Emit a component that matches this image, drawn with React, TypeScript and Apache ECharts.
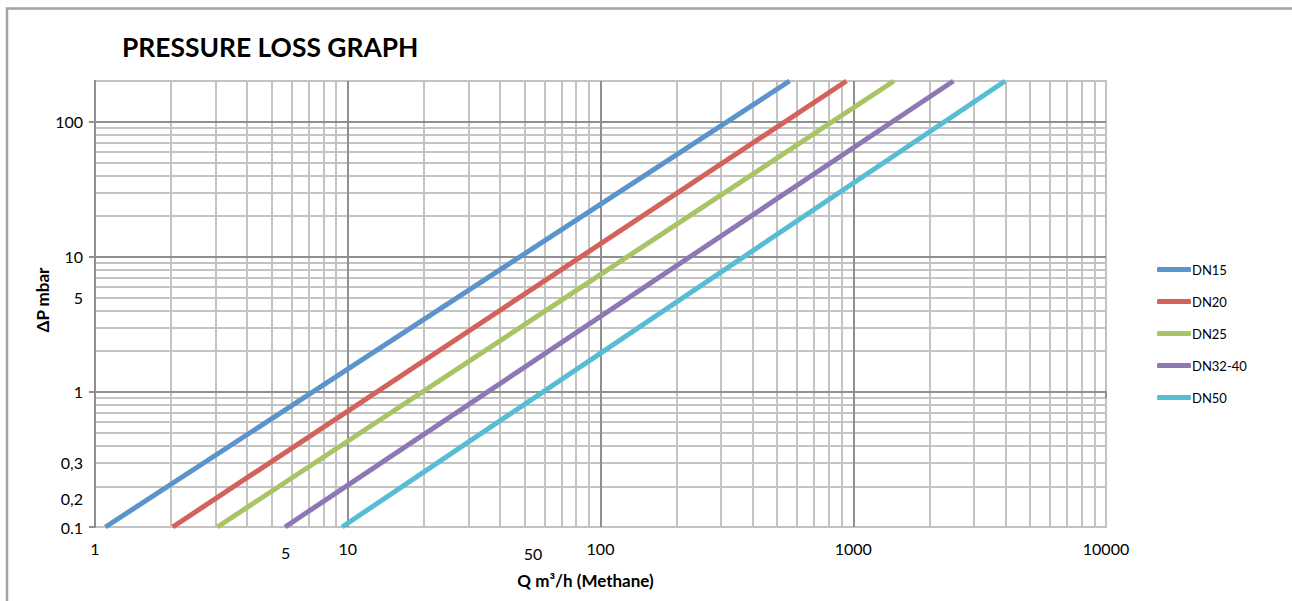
import React, { useEffect, useRef } from 'react';
import * as echarts from 'echarts';

const seriesNames = ['DN15', 'DN20', 'DN25', 'DN32-40', 'DN50'];
const seriesColors = ['#5B93CB', '#D2625A', '#A9C465', '#8E78B4', '#57BDD4'];
// pressure loss (mbar) at the two ends of every straight line
const pressureEnds = [0.1, 200];
// flow (m3/h) at those pressure losses
const flowDN15 = [1.1, 560];
const flowDN20 = [2.03, 940];
const flowDN25 = [3.05, 1450];
const flowDN3240 = [5.65, 2490];
const flowDN50 = [9.5, 3990];
const flows = [flowDN15, flowDN20, flowDN25, flowDN3240, flowDN50];

const xTickValues = [1, 5, 10, 50, 100, 1000, 10000];
const xTickLabels = ['1', '5', '10', '50', '100', '1000', '10000'];
const yTickValues = [0.1, 0.2, 0.3, 1, 5, 10, 100];
const yTickLabels = ['0.1', '0,2', '0,3', '1', '5', '10', '100'];
const xMajorTicks = [1, 10, 100, 1000, 10000];
const xMajorGrid = [10, 100, 1000];
const xMinorGrid = [2, 3, 4, 5, 6, 7, 8, 9, 20, 30, 40, 50, 60, 70, 80, 90, 200, 300, 400, 500, 600, 700, 800, 900, 2000, 3000, 4000, 5000, 6000, 7000, 8000, 9000];
const yMajorTicks = [0.1, 1, 10, 100];
const yMajorGrid = [1, 10, 100];
const yMinorGrid = [0.2, 0.3, 0.4, 0.5, 0.6, 0.7, 0.8, 0.9, 2, 3, 4, 5, 6, 7, 8, 9, 20, 30, 40, 50, 60, 70, 80, 90];
const xMin = 1, xMax = 10000, yMin = 0.1, yMax = 200;

const FONT = 'Lato';
const L = Math.log10;

function labelFor(vals: number[], labels: string[], v: number) {
  const i = vals.findIndex((t) => Math.abs(L(t) - v) < 1e-6);
  return i < 0 ? '' : labels[i];
}

export default function App() {
  const ref = useRef<HTMLDivElement>(null);
  useEffect(() => {
    if (!ref.current) return;
    const chart = echarts.init(ref.current, null, { renderer: 'svg' });
    const grid = { left: 95, top: 81, width: 1011, height: 446 };
    const hidden = { show: false };
    const baseX = { type: 'value', min: L(xMin), max: L(xMax), gridIndex: 0, position: 'bottom' };
    const baseY = { type: 'value', min: L(yMin), max: L(yMax), gridIndex: 0, position: 'left' };
    const lbl = { fontFamily: FONT, fontSize: 16, lineHeight: 16, color: '#000' };
    const option: any = {
      animation: false,
      backgroundColor: '#fff',
      title: {
        text: 'PRESSURE LOSS GRAPH',
        left: 117,
        top: 29,
        textStyle: { fontFamily: FONT, fontWeight: 'bold', fontSize: 26.4, color: '#000' },
      },
      legend: {
        orient: 'vertical',
        left: 1152,
        top: 258,
        itemGap: 19,
        itemWidth: 34,
        itemHeight: 5,
        icon: 'roundRect',
        data: seriesNames,
        textStyle: { fontFamily: FONT, fontSize: 13, color: '#000', padding: [0, 0, 0, -4] },
      },
      graphic: [
        {
          type: 'rect',
          shape: { x: 7, y: 8.5, width: 1400, height: 800 },
          style: { fill: 'none', stroke: '#a3a3a3', lineWidth: 2.5 },
          silent: true,
        },
      ],
      grid: { ...grid, show: true, borderColor: '#c2c2c2', borderWidth: 2, containLabel: false, outerBoundsMode: 'none' },
      xAxis: [
        {
          ...baseX, z: 0,
          axisLine: hidden, axisLabel: hidden,
          axisTick: { show: false, customValues: xMinorGrid.map(L) },
          splitLine: { show: true, lineStyle: { color: '#c4c4c4', width: 2 } },
        },
        {
          ...baseX, z: 1,
          axisLine: hidden, axisLabel: hidden,
          axisTick: { show: false, customValues: xMajorGrid.map(L) },
          splitLine: { show: true, lineStyle: { color: '#8f8f8f', width: 2 } },
        },
        {
          ...baseX, z: 2,
          axisLine: { show: true, lineStyle: { color: '#8f8f8f', width: 2 } },
          axisTick: { show: true, length: 6, customValues: xMajorTicks.map(L), lineStyle: { color: '#8f8f8f', width: 2 } },
          splitLine: hidden,
          axisLabel: {
            show: true,
            customValues: xTickValues.map(L),
            margin: 13,
            ...lbl,
            formatter: (v: number) => {
              const s = labelFor(xTickValues, xTickLabels, v);
              if (s === '5') return `{a|${s}}`;
              if (s === '50') return `{b|${s}}`;
              return s;
            },
            rich: {
              a: { ...lbl, padding: [8, 0, 0, 28] },
              b: { ...lbl, padding: [10, 0, 0, 17] },
            },
          },
          name: 'Q m³/h (Methane)',
          nameLocation: 'middle',
          nameGap: 45,
          nameMoveOverlap: false,
          nameTextStyle: { fontFamily: FONT, fontWeight: 'bold', fontSize: 17, color: '#000', padding: [0, 30, 0, 0] },
        },
        {
          type: 'log', logBase: 10, min: xMin, max: xMax, gridIndex: 0, show: false,
        },
      ],
      yAxis: [
        {
          ...baseY, z: 0,
          axisLine: hidden, axisLabel: hidden,
          axisTick: { show: false, customValues: yMinorGrid.map(L) },
          splitLine: { show: true, lineStyle: { color: '#c4c4c4', width: 2 } },
        },
        {
          ...baseY, z: 1,
          axisLine: hidden, axisLabel: hidden,
          axisTick: { show: false, customValues: yMajorGrid.map(L) },
          splitLine: { show: true, lineStyle: { color: '#8f8f8f', width: 2 } },
        },
        {
          ...baseY, z: 2,
          axisLine: { show: true, lineStyle: { color: '#8f8f8f', width: 2 } },
          axisTick: { show: true, length: 6, customValues: yMajorTicks.map(L), lineStyle: { color: '#8f8f8f', width: 2 } },
          splitLine: hidden,
          axisLabel: {
            show: true,
            customValues: yTickValues.map(L),
            margin: 12,
            ...lbl,
            formatter: (v: number) => {
              const s = labelFor(yTickValues, yTickLabels, v);
              if (s === '0,2') return `{c|${s}}`;
              return s;
            },
            rich: {
              c: { ...lbl, padding: [24, 0, 0, 0] },
            },
          },
          name: 'ΔP mbar',
          nameLocation: 'middle',
          nameGap: 44,
          nameMoveOverlap: false,
          nameTextStyle: { fontFamily: FONT, fontWeight: 'bold', fontSize: 17, color: '#000', padding: [0, 0, 0, 8] },
        },
        {
          type: 'log', logBase: 10, min: yMin, max: yMax, gridIndex: 0, show: false,
        },
      ],
      series: seriesNames.map((name, i) => ({
        name,
        type: 'line',
        xAxisIndex: 3,
        yAxisIndex: 3,
        z: 5,
        symbol: 'none',
        showSymbol: false,
        color: seriesColors[i],
        lineStyle: { color: seriesColors[i], width: 5 },
        data: flows[i].map((q, k) => [q, pressureEnds[k]]),
      })),
    };
    chart.setOption(option);
    return () => chart.dispose();
  }, []);
  return (
    <div
      ref={ref}
      style={{ position: 'absolute', left: 0, top: 0, width: 1292, height: 601, background: '#fff' }}
    />
  );
}
